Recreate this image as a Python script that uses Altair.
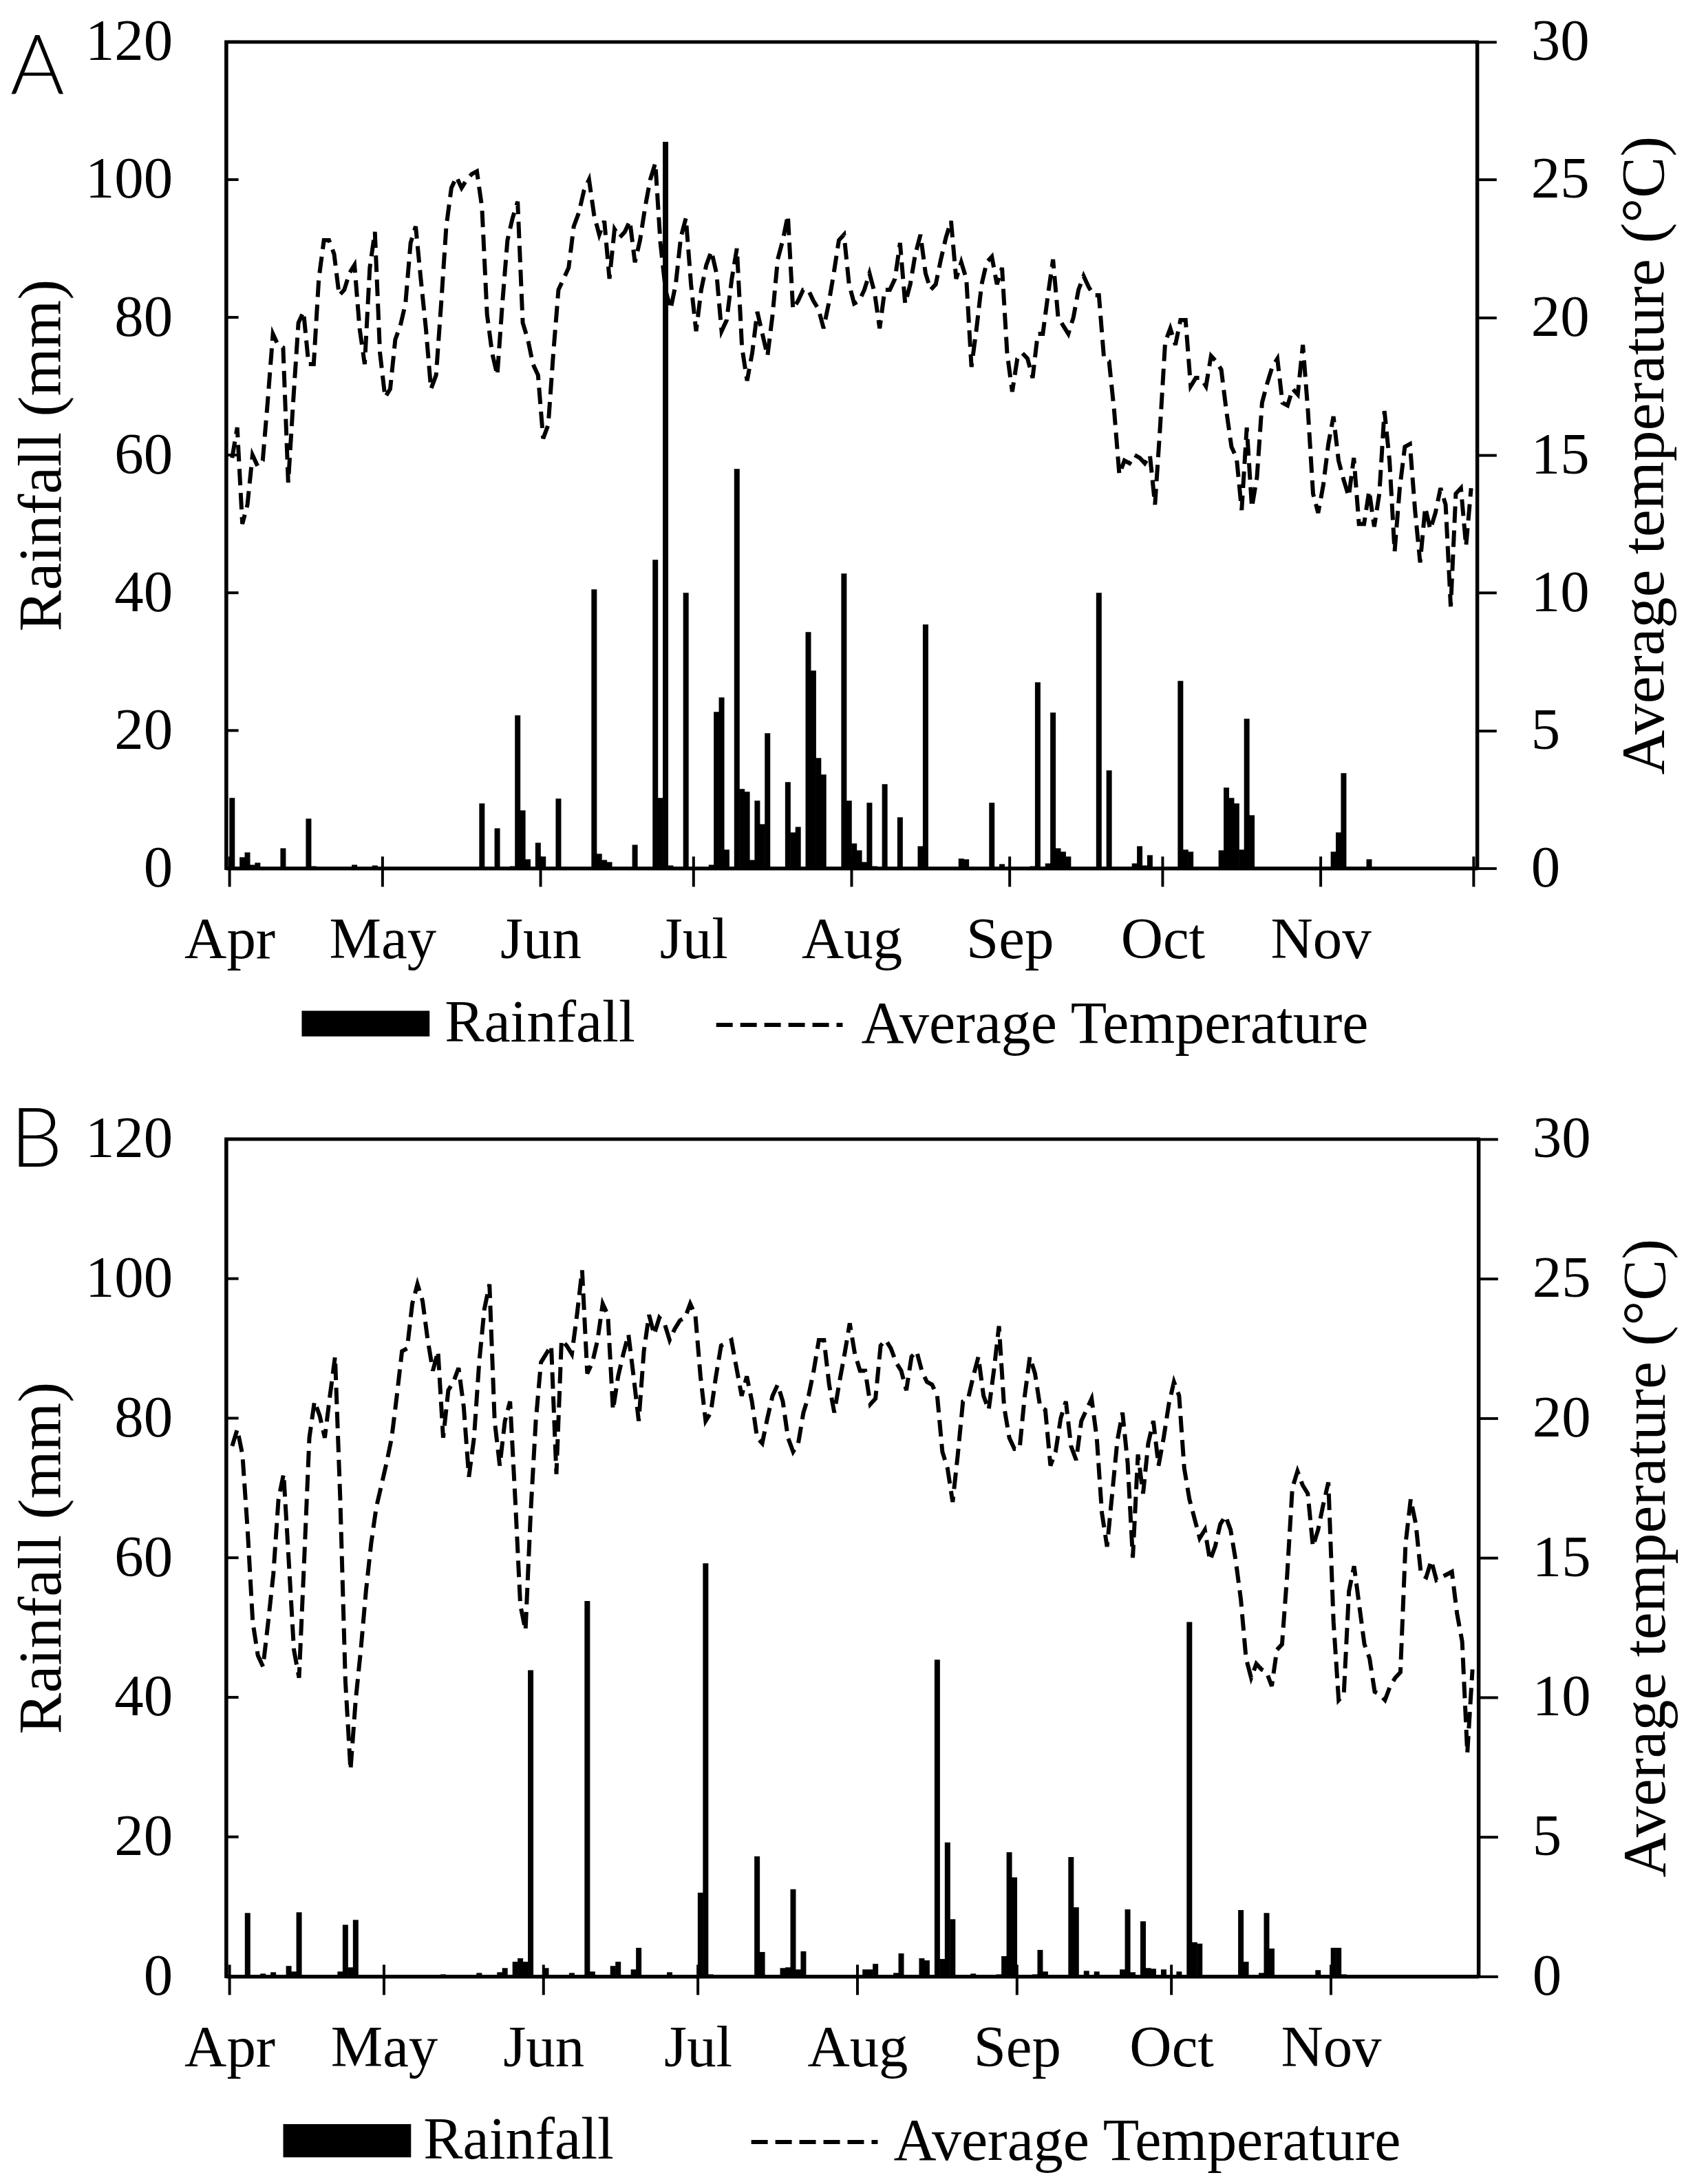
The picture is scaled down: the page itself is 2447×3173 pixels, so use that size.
import altair as alt
import pandas as pd

YEAR = 2018
SERIF = "Liberation Serif"

# ---------------- Panel A ----------------
a_temp = [14.9,16.0,12.5,13.2,15.0,14.6,14.8,17.0,19.4,19.0,
          18.9,14.0,17.0,19.8,20.2,18.3,18.3,21.4,22.8,22.8,
          22.3,20.8,21.0,21.6,21.9,19.6,18.3,21.8,23.1,18.7,
          17.1,17.4,19.2,19.7,20.5,22.7,23.3,21.4,19.6,17.4,
          17.9,20.5,23.3,24.7,25.1,24.7,25.0,25.2,25.3,24.0,
          20.1,18.7,17.9,20.5,22.8,23.6,24.2,19.8,19.2,18.3,
          17.9,15.6,16.1,18.7,21.0,21.4,21.8,23.3,23.8,24.6,
          25.0,23.7,23.0,23.5,21.4,23.2,22.9,23.1,23.5,22.0,
          22.8,24.0,25.0,25.6,22.7,21.0,20.3,21.2,22.9,23.6,
          21.2,19.5,21.0,21.9,22.4,21.6,19.5,19.9,21.4,22.5,
          18.9,17.7,18.7,20.2,19.4,18.6,20.1,22.1,22.8,23.7,
          20.3,20.6,21.0,21.0,20.6,20.3,19.6,20.5,21.6,22.8,
          23.0,21.2,20.5,20.6,21.0,21.6,20.9,19.6,21.0,21.0,
          21.4,22.7,20.5,21.2,22.3,23.0,21.6,21.0,21.2,22.1,
          22.9,23.5,21.4,22.0,21.4,18.2,19.6,21.2,22.0,22.2,
          21.2,21.8,18.7,17.3,18.5,18.7,18.5,17.8,19.4,19.4,
          20.8,22.1,20.0,19.7,19.4,20.0,21.0,21.5,21.1,20.8,
          20.8,18.5,18.4,16.6,14.3,14.8,14.7,15.0,14.9,14.7,
          15.0,13.2,16.0,19.1,19.6,19.0,19.9,19.9,17.5,17.8,
          17.8,17.5,18.6,18.4,18.1,16.6,15.3,14.9,13.0,16.0,
          13.1,14.2,16.9,17.6,18.2,18.5,16.9,16.8,17.4,17.2,
          19.0,16.6,13.6,12.9,13.9,15.4,16.4,14.8,14.1,13.5,
          14.9,12.5,12.5,13.7,12.4,13.6,16.6,14.8,11.5,13.8,
          15.3,15.4,13.0,11.1,13.1,12.3,12.9,13.8,13.2,9.5,
          13.6,13.8,11.7,13.8]
a_rain_day = [0,2,3,4,5,10,15,16,24,28,49,52,55,56,57,58,60,61,64,71,72,73,74,79,83,
              84,85,86,89,94,95,96,97,99,100,101,102,103,104,105,109,110,111,113,114,
              115,116,120,121,122,123,124,125,126,128,131,135,136,143,144,149,151,157,
              158,160,161,162,163,164,170,172,177,178,179,180,186,187,188,194,195,196,
              197,198,199,200,216,217,218,220,223]
a_rain_mm = [10.2,1.6,2.3,0.5,0.8,2.9,7.2,0.3,0.5,0.4,9.4,5.8,0.3,22.2,8.4,1.3,3.7,1.7,
             10.1,40.5,2.1,1.2,0.9,3.4,44.8,10.2,105.5,0.4,40.0,0.5,22.7,24.8,2.7,58.0,
             11.5,11.1,1.2,9.8,6.4,19.6,12.5,5.2,6.0,34.3,28.7,16.0,13.6,42.8,9.8,3.6,
             2.6,0.9,9.5,0.3,12.2,7.4,3.2,35.4,1.4,1.3,9.5,0.6,0.3,27.0,0.7,22.6,2.9,
             2.4,1.7,40.0,14.2,0.7,3.2,0.4,1.9,27.2,2.7,2.4,2.6,11.7,10.2,9.4,2.7,21.7,
             7.7,2.4,5.2,13.8,0.2,1.3]

# ---------------- Panel B ----------------
b_temp = [19.0,19.6,18.7,16.0,12.7,11.5,11.1,12.7,14.4,17.1,18.0,14.9,11.7,10.7,14.9,
          19.3,20.6,20.1,19.3,20.8,22.2,
          17.1,10.6,7.4,9.9,11.7,13.8,15.5,16.8,
          17.6,18.4,19.3,20.8,22.4,22.5,24.1,24.8,24.2,22.8,
          21.7,22.4,19.3,21.0,21.3,21.8,20.4,17.9,19.3,22.0,
          23.9,24.8,19.9,18.3,19.9,20.6,17.1,13.3,12.4,16.6,
          19.9,22.0,22.3,22.6,18.0,22.8,22.6,22.3,23.7,25.3,
          21.6,22.0,22.8,24.1,23.7,20.3,21.5,22.3,23.0,21.5,
          19.9,22.4,23.7,23.0,23.6,23.4,22.8,23.2,23.5,23.6,
          24.1,23.7,21.5,19.9,20.2,21.5,22.6,22.7,22.8,
          21.8,20.8,21.5,20.6,19.3,19.1,20.0,20.8,21.2,20.6,
          19.3,18.8,19.1,20.2,20.8,21.7,22.8,22.8,21.2,20.2,
          21.3,22.3,23.4,22.3,21.7,21.7,20.5,20.7,22.6,22.8,
          22.5,22.0,21.7,21.0,22.2,22.4,21.7,21.3,21.2,20.8,
          18.8,18.2,17.0,18.7,20.6,20.7,21.5,22.2,20.8,20.3,
          21.7,23.3,20.4,19.3,18.9,18.9,20.8,22.2,21.6,20.4,
          20.3,18.3,18.8,20.0,20.6,19.0,18.5,19.9,20.3,20.7,
          19.3,16.6,15.4,17.3,19.2,20.2,18.4,15.0,
          18.7,
          17.3,19.1,19.9,18.3,19.3,20.5,21.3,20.8,18.2,17.1,
          16.4,15.7,16.0,14.9,15.4,16.2,16.5,16.0,14.9,13.5,
          11.4,10.7,11.2,11.0,10.9,10.4,11.7,11.9,14.4,17.5,
          18.1,17.6,17.3,15.4,16.0,16.9,17.7,12.7,9.9,10.1,
          13.8,14.7,13.3,11.9,11.4,10.2,10.1,9.9,10.4,10.7,
          10.9,15.5,17.1,16.2,14.4,14.3,14.9,14.2,14.3,14.4,
          14.5,13.0,12.0,8.0,11.0]
b_rain_day = [3,6,8,11,12,13,21,22,23,24,41,48,52,53,55,56,57,58,61,66,69,70,74,75,78,
              79,85,91,92,93,95,97,99,100,102,103,107,108,109,110,111,123,124,125,129,
              130,134,135,137,138,139,140,144,149,150,151,152,156,157,158,163,164,166,
              168,173,174,175,177,178,179,181,184,186,187,188,196,197,200,201,202,211,
              214,215,216]
b_rain_mm = [9.1,0.4,0.6,1.5,0.7,9.2,0.7,7.4,1.3,8.1,0.3,0.5,0.6,1.2,2.1,2.6,2.1,43.9,
             1.2,0.5,53.8,0.7,1.5,2.1,1.0,4.1,0.6,12.0,59.2,0.3,0.2,0.2,0.2,0.2,17.2,
             3.5,1.2,1.3,12.5,1.0,3.6,1.0,1.0,1.8,0.5,3.3,2.6,2.3,45.4,2.5,19.2,8.2,
             0.4,0.3,2.9,17.8,14.2,0.3,3.8,0.7,17.1,9.9,0.8,0.7,1.0,9.6,0.6,7.9,1.2,
             1.1,1.0,0.7,50.8,4.9,4.7,9.5,2.1,0.5,9.1,4.0,0.9,4.1,4.1,0.3]

rain_ticks = [0, 20, 40, 60, 80, 100, 120]
temp_ticks = [0, 5, 10, 15, 20, 25, 30]
label_months = [4, 5, 6, 7, 8, 9, 10, 11]


def dt(m, d):
    return alt.DateTime(year=YEAR, month=m, date=d)


def panel(letter, temps, rday, rmm, end, tick_md, w, h, leg):
    t0 = pd.Timestamp(YEAR, 4, 1)
    tdf = pd.DataFrame({
        "date": [t0 + pd.Timedelta(days=i, hours=12) for i in range(len(temps))],
        "temp": temps, "s": "Average Temperature"})
    rdf = pd.DataFrame({
        "date": [t0 + pd.Timedelta(days=d, hours=12) for d in rday],
        "rain": rmm, "s": "Rainfall"})
    tickdf = pd.DataFrame({"date": [pd.Timestamp(YEAR, m, d) for m, d in tick_md]})
    rtickdf = pd.DataFrame({"v": rain_ticks})

    x_enc = alt.X("date:T", title=None,
                  scale=alt.Scale(domain=[dt(4, 1), dt(end[0], end[1])]),
                  axis=alt.Axis(values=[dt(m, 1) for m in label_months], format="%b",
                                ticks=False, tickSize=0, labelPadding=63,
                                labelFont=SERIF, labelFontSize=85, labelColor="black",
                                labelFlush=False, labelOverlap=False,
                                domainColor="black", domainWidth=5, grid=False))

    bars = alt.Chart(rdf).mark_bar(size=8).encode(
        x=x_enc,
        y=alt.Y("rain:Q", title="Rainfall (mm)",
                scale=alt.Scale(domain=[0, 120], nice=False),
                axis=alt.Axis(orient="left", values=rain_ticks, ticks=False, tickSize=0,
                              labelPadding=78, labelFont=SERIF, labelFontSize=85,
                              labelColor="black", titleFont=SERIF, titleFontSize=90,
                              titleFontWeight="normal", titleColor="black",
                              titlePadding=22, domainColor="black", domainWidth=5,
                              grid=False)),
        color=alt.Color("s:N", scale=alt.Scale(domain=["Rainfall"], range=["black"]),
                        legend=alt.Legend(title=None, orient="none",
                                          legendX=leg["rx"], legendY=leg["y"],
                                          symbolType="M-1,-%sH1V%sH-1Z" % (leg["sh"], leg["sh"]),
                                          symbolSize=186 * 186, symbolStrokeWidth=0,
                                          labelFont=SERIF, labelFontSize=86,
                                          labelColor="black", labelOffset=leg["ro"],
                                          labelLimit=2000, padding=0)),
    )

    line = alt.Chart(tdf).mark_line(color="black", strokeWidth=6).encode(
        x=x_enc,
        y=alt.Y("temp:Q", title="Average temperature (°C)",
                scale=alt.Scale(domain=[0, 30], nice=False),
                axis=alt.Axis(orient="right", values=temp_ticks, tickSize=28, tickWidth=4,
                              tickColor="black", labelPadding=50, labelFont=SERIF,
                              labelFontSize=85, labelColor="black", titleFont=SERIF,
                              titleFontSize=90, titleFontWeight="normal",
                              titleColor="black", titleAngle=270, titleBaseline="top",
                              titlePadding=36, domainColor="black", domainWidth=5,
                              grid=False)),
        strokeDash=alt.StrokeDash("s:N",
                                  scale=alt.Scale(domain=["Average Temperature"],
                                                  range=[[24, 11]]),
                                  legend=alt.Legend(title=None, orient="none",
                                                    legendX=leg["tx"], legendY=leg["y"],
                                                    symbolType="stroke",
                                                    symbolSize=184 * 184,
                                                    symbolStrokeWidth=6,
                                                    symbolStrokeColor="black",
                                                    labelFont=SERIF, labelFontSize=86,
                                                    labelColor="black",
                                                    labelOffset=leg["to"],
                                                    labelLimit=2000, padding=0)),
    )

    left_ticks = alt.Chart(rtickdf).mark_rule(color="black", strokeWidth=4).encode(
        y=alt.Y("v:Q", scale=alt.Scale(domain=[0, 120], nice=False), axis=None),
        x=alt.value(0), x2=alt.value(18))

    month_ticks = alt.Chart(tickdf).mark_rule(color="black", strokeWidth=4).encode(
        x=x_enc, y=alt.value(h - 17), y2=alt.value(h + 27))

    return alt.layer(bars, line, left_ticks, month_ticks).resolve_scale(
        y="independent").properties(
        width=w, height=h,
        title=alt.TitleParams(text=letter, orient="none", anchor="start", align="left",
                              font="Lato", fontSize=120, fontWeight=300, color="black",
                              baseline="alphabetic", dx=-314, dy=leg["ldy"]))


tick_a = [(m, 1) for m in range(4, 13)]
tick_b = [(m, 1) for m in range(4, 12)]

pa = panel("A", a_temp, a_rain_day, a_rain_mm, (12, 1), tick_a, 1820, 1202,
           {"rx": 110, "tx": 710, "y": 1335, "ro": 22, "to": 24, "sh": 0.2, "ldy": 75})
pb = panel("B", b_temp, b_rain_day, b_rain_mm, (11, 29), tick_b, 1822, 1218,
           {"rx": 83, "tx": 761, "y": 1364, "ro": 18, "to": 20, "sh": 0.26, "ldy": 40})

chart = alt.vconcat(pa, pb, spacing=61).resolve_scale(
    color="independent", strokeDash="independent").resolve_legend(
    color="independent", strokeDash="independent").configure_view(
    stroke="black", strokeWidth=5).properties(
    padding={"left": 4, "top": 6, "right": 0, "bottom": 0})

chart.save("out.html", embed_options={"renderer": "svg", "actions": False})
